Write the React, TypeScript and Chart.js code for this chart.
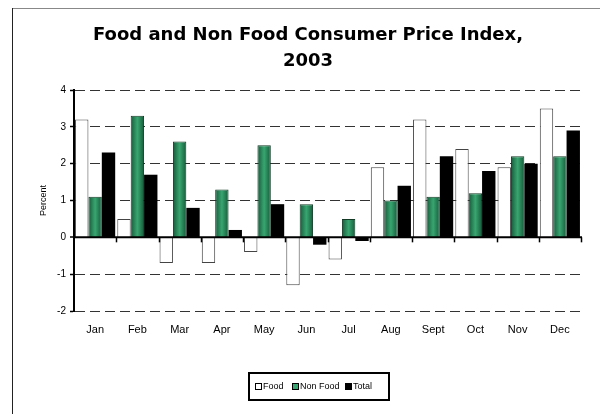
import React, { useEffect, useRef } from "react";
import { Chart, registerables } from "chart.js";

Chart.register(...registerables);

const MONTHS = ["Jan", "Feb", "Mar", "Apr", "May", "Jun", "Jul", "Aug", "Sept", "Oct", "Nov", "Dec"];
const FOOD = [3.2, 0.5, -0.7, -0.7, -0.4, -1.3, -0.6, 1.9, 3.2, 2.4, 1.9, 3.5];
const NON_FOOD = [1.1, 3.3, 2.6, 1.3, 2.5, 0.9, 0.5, 1.0, 1.1, 1.2, 2.2, 2.2];
const TOTAL = [2.3, 1.7, 0.8, 0.2, 0.9, -0.2, -0.1, 1.4, 2.2, 1.8, 2.0, 2.9];
const SERIES_NAMES = ["Food", "Non Food", "Total"];
const TITLE_LINES = ["Food and Non Food Consumer Price Index,", "2003"];
const Y_TITLE = "Percent";
const Y_MIN = -2;
const Y_MAX = 4;

const SANS = "'Liberation Sans', Arial, sans-serif";
const CAT_PCT = 0.95;
const GREEN_EDGE = "#165a3a";
const GREEN_MID = "#38a670";

const decorPlugin = {
  id: "decor",
  afterDatasetsDraw(chart: any) {
    const { ctx, chartArea, scales } = chart;
    const y0 = scales.y.getPixelForValue(0);
    ctx.save();
    ctx.strokeStyle = "#000";
    ctx.lineWidth = 2;
    ctx.beginPath();
    ctx.moveTo(chartArea.left, y0);
    ctx.lineTo(chartArea.right + 1, y0);
    ctx.stroke();
    // category boundary tick marks on the zero line
    const n = MONTHS.length;
    const cw = (chartArea.right - chartArea.left) / n;
    ctx.lineWidth = 1.5;
    for (let i = 1; i <= n; i++) {
      const x = Math.round(scales.x.getPixelForValue(i - 1) + cw / 2) + 0.5;
      ctx.beginPath();
      ctx.moveTo(x, y0);
      ctx.lineTo(x, y0 + 5);
      ctx.stroke();
    }
    ctx.restore();
  },
  afterDraw(chart: any) {
    const { ctx } = chart;
    ctx.save();
    // frame
    ctx.lineWidth = 1;
    ctx.strokeStyle = "#888";
    ctx.beginPath();
    ctx.moveTo(12, 8.5);
    ctx.lineTo(600, 8.5);
    ctx.stroke();
    ctx.strokeStyle = "#222";
    ctx.beginPath();
    ctx.moveTo(12.5, 8);
    ctx.lineTo(12.5, 414);
    ctx.stroke();

    // title
    ctx.fillStyle = "#000";
    ctx.font = "bold 18px 'DejaVu Sans', Verdana, sans-serif";
    ctx.textAlign = "center";
    ctx.textBaseline = "alphabetic";
    ctx.fillText(TITLE_LINES[0], 308, 40);
    ctx.fillText(TITLE_LINES[1], 308, 66);

    // legend
    const lx = 249, ly = 373, lw = 140, lh = 27;
    ctx.lineWidth = 2;
    ctx.strokeStyle = "#000";
    ctx.strokeRect(lx, ly, lw, lh);
    ctx.font = "9px " + SANS;
    ctx.textAlign = "left";
    ctx.textBaseline = "middle";
    const cy = ly + lh / 2;
    const fills = ["#fff", GREEN_MID, "#000"];
    const starts = [255, 292, 345];
    for (let i = 0; i < SERIES_NAMES.length; i++) {
      const sx = starts[i];
      ctx.fillStyle = fills[i];
      ctx.fillRect(sx, cy - 3.5, 7, 7);
      ctx.lineWidth = 1;
      ctx.strokeStyle = "#000";
      ctx.strokeRect(sx + 0.5, cy - 3, 6, 6);
      ctx.fillStyle = "#000";
      ctx.fillText(SERIES_NAMES[i], sx + 8, cy);
    }
    ctx.restore();
  },
};

export default function App() {
  const ref = useRef<HTMLCanvasElement | null>(null);

  useEffect(() => {
    if (!ref.current) return;
    const greenFill = (c: any) => {
      const chart = c.chart;
      const xs = chart.scales && chart.scales.x;
      if (!xs || c.dataIndex === undefined || !isFinite(xs.width)) return GREEN_MID;
      const cx = xs.getPixelForValue(c.dataIndex);
      const w = ((xs.width / MONTHS.length) * CAT_PCT) / 3;
      const g = chart.ctx.createLinearGradient(cx - w / 2, 0, cx + w / 2, 0);
      g.addColorStop(0, GREEN_EDGE);
      g.addColorStop(0.5, GREEN_MID);
      g.addColorStop(1, GREEN_EDGE);
      return g;
    };
    const chart = new Chart(ref.current, {
      type: "bar",
      data: {
        labels: MONTHS,
        datasets: [
          { label: SERIES_NAMES[0], data: FOOD, backgroundColor: "#fff", borderColor: "#444", borderWidth: 1 },
          { label: SERIES_NAMES[1], data: NON_FOOD, backgroundColor: greenFill, borderColor: "#143a26", borderWidth: 1 },
          { label: SERIES_NAMES[2], data: TOTAL, backgroundColor: "#000", borderColor: "#000", borderWidth: 0 },
        ],
      },
      options: {
        responsive: false,
        animation: false,
        devicePixelRatio: 1,
        layout: { padding: { left: 0, top: 90, right: 19, bottom: 0 } },
        datasets: { bar: { categoryPercentage: CAT_PCT, barPercentage: 1 } },
        plugins: { legend: { display: false }, title: { display: false }, tooltip: { enabled: false } },
        scales: {
          x: {
            grid: { display: false, drawTicks: false },
            border: { display: false },
            ticks: { color: "#000", font: { size: 11, family: SANS }, padding: 12, autoSkip: false, maxRotation: 0 },
            afterFit: (s: any) => { s.height = 103; },
          },
          y: {
            min: Y_MIN,
            max: Y_MAX,
            grid: {
              color: (c: any) => (c.tick && c.tick.value === 0 ? "rgba(0,0,0,0)" : "#333"),
              lineWidth: (c: any) => (c.tick && c.tick.value === 0 ? 0 : 1),
              tickColor: "#000",
              tickWidth: 1.5,
              tickLength: 4,
            },
            border: { display: true, color: "#000", width: 2, dash: [10, 5] },
            ticks: { stepSize: 1, color: "#000", font: { size: 10, family: SANS }, padding: 4 },
            title: { display: true, text: Y_TITLE, color: "#000", font: { size: 9, family: SANS }, padding: { top: 38, bottom: 0 } },
            afterFit: (s: any) => { s.width = 74; },
          },
        },
      },
      plugins: [decorPlugin],
    } as any);
    return () => chart.destroy();
  }, []);

  return (
    <div style={{ position: "absolute", left: 0, top: 0, width: 600, height: 414, background: "#fff" }}>
      <canvas ref={ref} width={600} height={414} style={{ display: "block", width: 600, height: 414 }} />
    </div>
  );
}
